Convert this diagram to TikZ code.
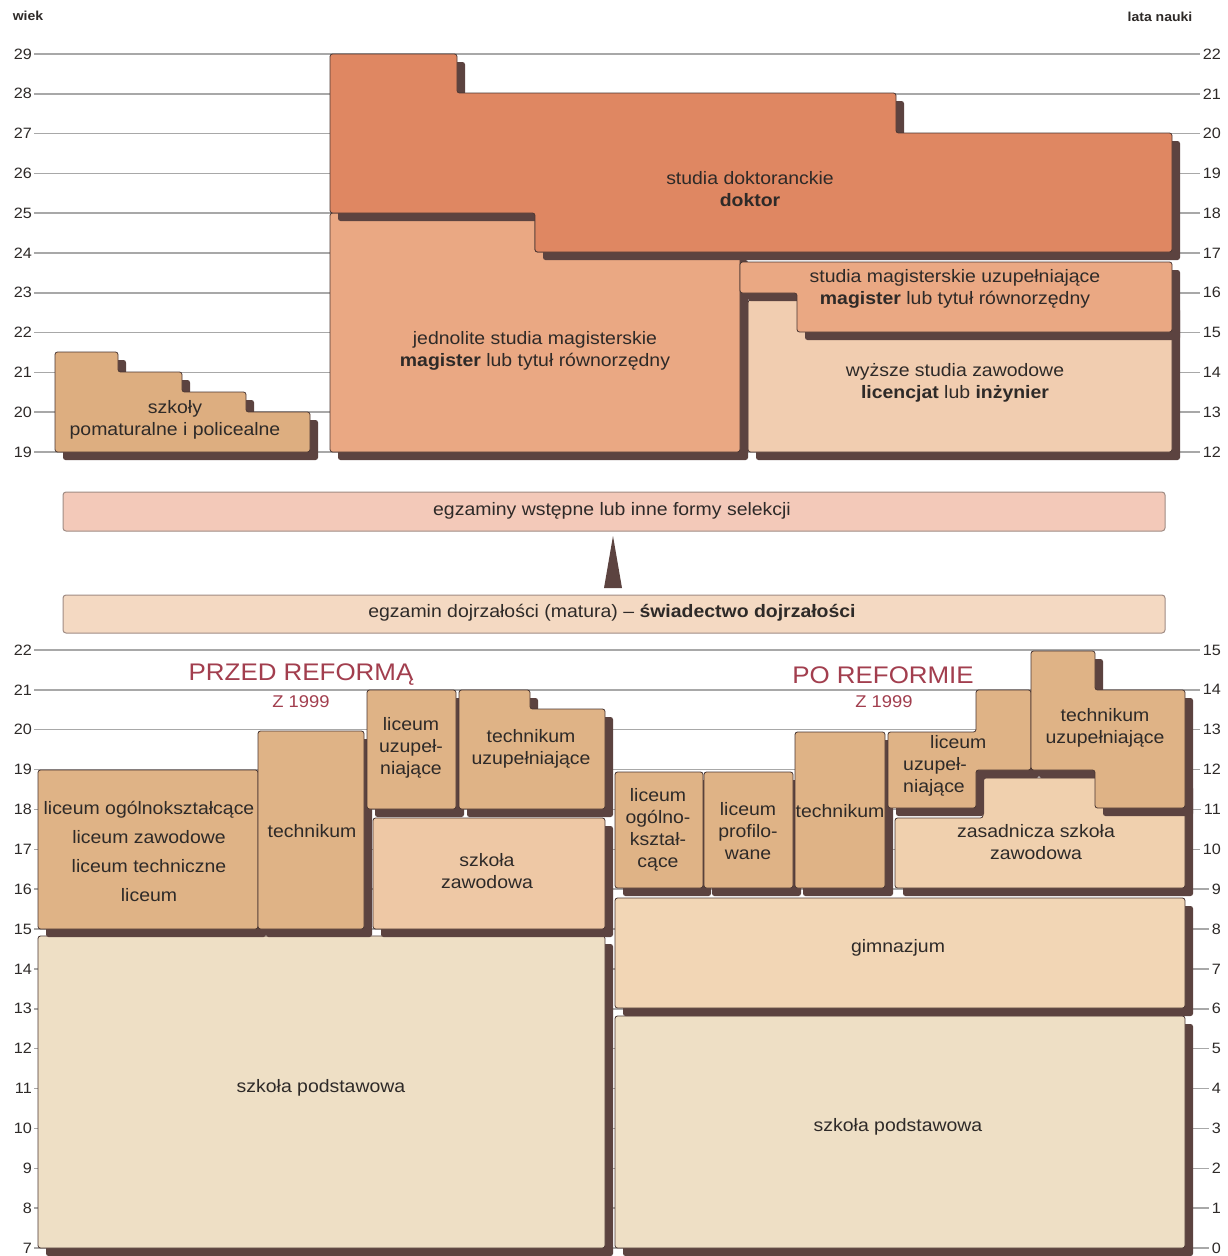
\documentclass[tikz,border=0pt]{standalone}
\usepackage{fontspec}
\setmainfont[FakeStretch=1.08]{Liberation Sans}
\definecolor{shc}{HTML}{5C4340}
\definecolor{edc}{HTML}{4A3632}
\definecolor{doktc}{HTML}{DF8762}
\definecolor{magc}{HTML}{EAA883}
\definecolor{licc}{HTML}{F1CDB0}
\definecolor{pomc}{HTML}{DDAE80}
\definecolor{selc}{HTML}{F3C9B9}
\definecolor{matc}{HTML}{F4D9C2}
\definecolor{secc}{HTML}{DFB386}
\definecolor{zawc}{HTML}{EEC8A5}
\definecolor{podc}{HTML}{EEDFC5}
\definecolor{gimc}{HTML}{F2D6B5}
\definecolor{zasc}{HTML}{F0D0AE}
\definecolor{gridc}{HTML}{A8A8A8}
\definecolor{titc}{HTML}{A23E4E}
\definecolor{txtc}{HTML}{2E2A28}
\definecolor{barc}{HTML}{A08C84}
\newcommand\SchBox[2]{%
  \fill[shc,rounded corners=2.5pt,shift={(8,8)}] #2;
  \filldraw[fill=#1,draw=edc,line width=0.8pt,rounded corners=2.5pt] #2;}
\begin{document}
\begin{tikzpicture}[x=1pt,y=-1pt,
  gridl/.style={draw=gridc,line width=1.5pt},
  num/.style={font=\fontsize{15}{18}\selectfont,text=txtc,inner sep=0pt},
  axt/.style={font=\fontsize{13}{16}\selectfont\bfseries,text=txtc,inner sep=0pt},
  txt/.style={font=\fontsize{18}{22}\selectfont,text=txtc,align=center,inner sep=0pt},
  txtw/.style={font=\fontsize{18}{29}\selectfont,text=txtc,align=center,inner sep=0pt},
  tit/.style={font=\fontsize{24}{28}\selectfont,text=titc,inner sep=0pt},
  sub/.style={font=\fontsize{17}{20}\selectfont,text=titc,inner sep=0pt},
  bar/.style={draw=barc,line width=1pt,rounded corners=3pt}]
\useasboundingbox (0,0) rectangle (1228,1256);
\fill[white] (0,0) rectangle (1228,1256);

% axis headings
\node[axt] (wiek) at (28,16) {wiek};
\node[axt] (lata) at (1160,17) {lata nauki};

% top grid
\foreach \i in {0,...,10}{
  \pgfmathsetmacro\yy{452-\i*39.8}
  \pgfmathtruncatemacro\la{19+\i}
  \pgfmathtruncatemacro\lb{12+\i}
  \node[num,anchor=east] (tl\i) at (32,\yy) {\la};
  \node[num,anchor=east] (tr\i) at (1221,\yy) {\lb};
  \draw[gridl] ([xshift=2pt]tl\i.east) -- ([xshift=-3pt]tr\i.west);
}
% bottom grid
\foreach \i in {0,...,15}{
  \pgfmathsetmacro\yy{1248-\i*39.87}
  \pgfmathtruncatemacro\la{7+\i}
  \node[num,anchor=east] (bl\i) at (32,\yy) {\la};
  \node[num,anchor=east] (br\i) at (1221,\yy) {\i};
  \draw[gridl] ([xshift=2pt]bl\i.east) -- ([xshift=-3pt]br\i.west);
}

% ---------- top: higher education ----------
\SchBox{pomc}{(55,352) -- (118,352) -- (118,372) -- (182,372) -- (182,392) -- (246,392) -- (246,412) -- (310,412) -- (310,452) -- (55,452) -- cycle}
\SchBox{licc}{(748,300) -- (1172,300) -- (1172,452) -- (748,452) -- cycle}
\SchBox{magc}{(330,213) -- (535,213) -- (535,252) -- (740,252) -- (740,452) -- (330,452) -- cycle}
\SchBox{magc}{(740,262) -- (1172,262) -- (1172,332) -- (797,332) -- (797,293) -- (740,293) -- cycle}
\SchBox{doktc}{(330,54) -- (457,54) -- (457,93) -- (896,93) -- (896,133) -- (1172,133) -- (1172,252) -- (535,252) -- (535,213) -- (330,213) -- cycle}

\node[txt] (pom) at (175,420) {szkoły\\pomaturalne i policealne};
\node[txt] (dok) at (750,189) {studia doktoranckie\\\textbf{doktor}};
\node[txt] (jed) at (535,351) {jednolite studia magisterskie\\\textbf{magister} lub tytuł równorzędny};
\node[txt] (umag) at (955,289) {studia magisterskie uzupełniające\\\textbf{magister} lub tytuł równorzędny};
\node[txt] (lic) at (955,383) {wyższe studia zawodowe\\\textbf{licencjat} lub \textbf{inżynier}};

% ---------- exams ----------
\filldraw[bar,fill=selc] (63,492) rectangle (1165,531);
\node[txt] (sel) at (612,511) {egzaminy wstępne lub inne formy selekcji};
\fill[shc] (604,588) -- (613,536) -- (622,588) -- cycle;
\filldraw[bar,fill=matc] (63,595) rectangle (1165,633);
\node[txt] (mat) at (612,613) {egzamin dojrzałości (matura) -- \textbf{świadectwo dojrzałości}};

% ---------- bottom left: before reform ----------
\SchBox{podc}{(38,936) -- (605,936) -- (605,1248) -- (38,1248) -- cycle}
\SchBox{secc}{(38,770) -- (258,770) -- (258,929) -- (38,929) -- cycle}
\SchBox{secc}{(258,731) -- (364,731) -- (364,929) -- (258,929) -- cycle}
\SchBox{zawc}{(373,818) -- (605,818) -- (605,929) -- (373,929) -- cycle}
\SchBox{secc}{(367,690) -- (456,690) -- (456,809) -- (367,809) -- cycle}
\SchBox{secc}{(459,690) -- (530,690) -- (530,709) -- (605,709) -- (605,809) -- (459,809) -- cycle}

\node[tit] (przed) at (301,675) {PRZED REFORMĄ};
\node[sub] (z1) at (301,702) {Z 1999};
\node[txtw] (licL) at (149,851) {liceum ogólnokształcące\\liceum zawodowe\\liceum techniczne\\liceum};
\node[txt] (techL) at (312,831) {technikum};
\node[txt] (licuL) at (411,748) {liceum\\uzupeł-\\niające};
\node[txt] (techuL) at (531,749) {technikum\\uzupełniające};
\node[txt] (zawL) at (487,871) {szkoła\\zawodowa};
\node[txt] (podL) at (321,1088) {szkoła podstawowa};

% ---------- bottom right: after reform ----------
\SchBox{podc}{(615,1016) -- (1185,1016) -- (1185,1248) -- (615,1248) -- cycle}
\SchBox{gimc}{(615,898) -- (1185,898) -- (1185,1008) -- (615,1008) -- cycle}
\SchBox{secc}{(615,772) -- (703,772) -- (703,888) -- (615,888) -- cycle}
\SchBox{secc}{(704,772) -- (793,772) -- (793,888) -- (704,888) -- cycle}
\SchBox{secc}{(795,732) -- (885,732) -- (885,888) -- (795,888) -- cycle}
\SchBox{zasc}{(895,818) -- (983,818) -- (983,778) -- (1185,778) -- (1185,888) -- (895,888) -- cycle}
\SchBox{secc}{(888,732) -- (976,732) -- (976,690) -- (1031,690) -- (1031,770) -- (976,770) -- (976,808) -- (888,808) -- cycle}
\SchBox{secc}{(1031,651) -- (1095,651) -- (1095,690) -- (1185,690) -- (1185,808) -- (1095,808) -- (1095,770) -- (1031,770) -- cycle}

\node[tit] (po) at (883,675) {PO REFORMIE};
\node[sub] (z2) at (884,702) {Z 1999};
\node[txt] (licoR) at (658,830) {liceum\\ogólno-\\kształ-\\cące};
\node[txt] (lprR) at (748,831) {liceum\\profilo-\\wane};
\node[txt] (techR) at (840,811) {technikum};
\node[txt,align=left,anchor=west] (licuR) at (903,766) {\hspace{27pt}liceum\\uzupeł-\\niające};
\node[txt] (techuR) at (1105,728) {technikum\\uzupełniające};
\node[txt] (zasR) at (1036,842) {zasadnicza szkoła\\zawodowa};
\node[txt] (gimR) at (898,948) {gimnazjum};
\node[txt] (podR) at (898,1127) {szkoła podstawowa};
\end{tikzpicture}
\end{document}
